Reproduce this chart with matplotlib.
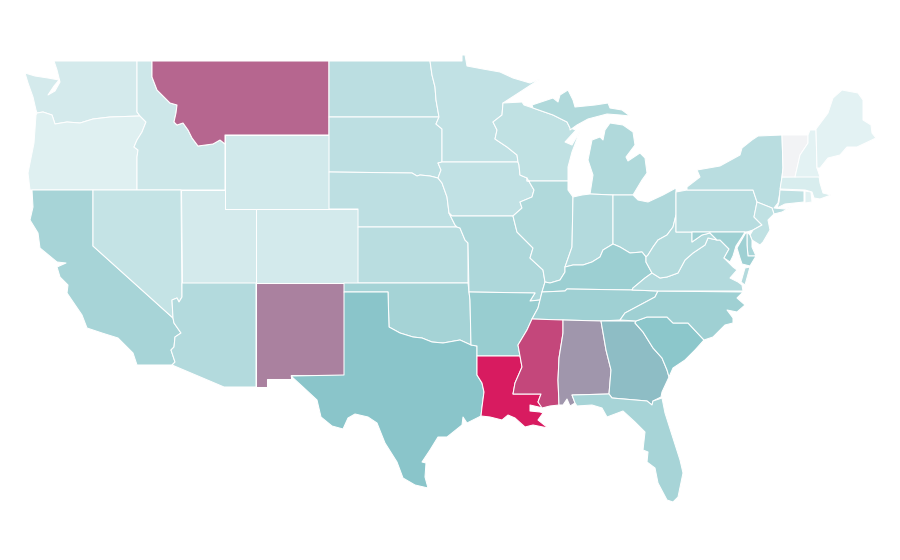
import matplotlib
matplotlib.use('Agg')
import matplotlib.pyplot as plt
from matplotlib.colors import LinearSegmentedColormap

states = ['WA','OR','ID','MT','WY','CA','NV','UT','CO','AZ','NM','ND','SD','NE','KS','OK','TX',
          'MN','IA','MO','AR','LA','WI','IL','MI','IN','OH','KY','TN','MS','AL','GA','FL','SC','NC',
          'VA','WV','PA','NY','NJ','DE','MD','CT','RI','MA','VT','NH','ME']
values = [17,12,20,78,18,37,24,17,17.5,32,70,28,27,27,29,38,50,
          25,25,34,44,100,26,33,33,32,33.5,42,41,87,64,52.5,37,49,41,
          32,31,30,29,26,36,41,26,11,15,0,10,10]

# state outlines, traced in picture pixels. MI, MD, VA have two pieces
shapes = {
 'WA': [[(54,61),(137,61),(137,112),(140,116),(110,117),(93,119),(80,123),(67,122),(55,124),(52,115),(43,112),(37,113),
         (36,110),(33,97),(28,83),(25,73),(35,76),(48,78),(59,80),(54,86),(48,95),(55,91),(60,82),(57,70)]],
 'OR': [[(37,113),(43,112),(52,115),(55,124),(67,122),(80,123),(93,119),(110,117),(140,116),(146,122),(142,132),(137,140),
         (134,147),(138,150),(137,157),(137,190),(30,190),(28,173),(34,143),(36,115)]],
 'ID': [[(137,61),(152,61),(152,77),(157,90),(170,103),(177,105),(176,113),(174,122),(177,125),(183,123),(188,130),(192,138),
         (198,146),(213,144),(220,140),(225,144),(225,190),(137,190),(137,157),(138,150),(134,147),(137,140),(142,132),
         (146,122),(140,116),(137,112)]],
 'MT': [[(152,61),(329,61),(329,135),(225,135),(225,144),(220,140),(213,144),(198,146),(192,138),(188,130),(183,123),(177,125),
         (174,122),(176,113),(177,105),(170,103),(157,90),(152,77)]],
 'WY': [[(225,135),(329,135),(329,209),(225,209)]],
 'CA': [[(32,190),(93,190),(93,246),(173,318),(174,323),(181,333),(175,337),(174,347),(171,350),(175,362),(172,365),(137,365),
         (133,353),(118,338),(102,333),(87,328),(82,315),(67,293),(68,285),(60,277),(57,267),(66,263),(57,262),(40,248),
         (38,233),(30,220),(33,207)]],
 'NV': [[(93,190),(181,190),(182,297),(179,302),(177,298),(172,300),(173,318),(93,246)]],
 'UT': [[(181,190),(225,190),(225,209),(256,209),(256,283),(182,283)]],
 'CO': [[(256,209),(358,209),(358,283),(256,283)]],
 'AZ': [[(182,283),(256,283),(256,387),(224,387),(172,365),(175,362),(171,350),(174,347),(175,337),(181,333),(174,323),
         (173,318),(172,300),(177,298),(179,302),(182,297)]],
 'NM': [[(256,283),(344,283),(344,375),(291,375),(291,379),(267,379),(267,387),(256,387)]],
 'ND': [[(329,61),(430,61),(432,75),(435,87),(436,100),(439,117),(329,117)]],
 'SD': [[(329,117),(439,117),(436,124),(442,129),(442,162),(438,163),(441,170),(438,178),(430,176),(420,175),(417,176),(412,173),(329,172)]],
 'NE': [[(329,172),(412,173),(417,176),(420,175),(430,176),(438,178),(442,183),(447,197),(449,213),(455,225),(457,227),(358,227),(358,209),(329,209)]],
 'KS': [[(358,227),(457,227),(460,228),(465,240),(468,243),(468,283),(358,283)]],
 'OK': [[(344,283),(468,283),(470,300),(471,345),(460,340),(443,343),(432,342),(422,338),(413,337),(400,333),(389,327),(388,292),(344,292)]],
 'TX': [[(344,292),(388,292),(389,327),(400,333),(413,337),(422,338),(432,342),(443,343),(460,340),(471,345),(477,346),(477,375),
         (482,383),(484,392),(482,407),(481,416),(467,423),(463,417),(462,425),(447,437),(438,437),(430,450),(422,462),(426,463),
         (425,477),(428,488),(415,485),(403,478),(397,462),(385,443),(377,423),(368,417),(355,414),(348,418),(343,429),(332,426),
         (321,417),(317,400),(303,387),(291,376),(344,375)]],
 'MN': [[(430,61),(462,61),(462,55),(465,55),(467,66),(483,69),(500,72),(513,78),(530,83),(540,79),(520,92),(503,103),(502,115),(493,122),
         (497,130),(495,139),(507,147),(517,155),(518,162),(442,162),(442,129),(436,124),(439,117),(436,100),(435,87),(432,75)]],
 'IA': [[(438,163),(442,162),(518,162),(519,165),(520,175),(527,178),(534,190),(532,197),(520,202),(522,208),(513,216),(452,216),
         (449,213),(447,197),(442,183),(438,178),(441,170)]],
 'MO': [[(452,216),(513,216),(517,232),(525,240),(533,248),(530,258),(543,270),(545,282),(542,292),(540,300),(530,301),(535,293),
         (469,292),(468,243),(465,240),(460,228),(457,227),(455,225),(449,213)]],
 'AR': [[(469,292),(535,293),(530,301),(540,300),(538,308),(532,319),(527,330),(518,345),(520,356),(477,356),(477,346),(471,345),(470,300)]],
 'LA': [[(477,356),(520,356),(522,367),(515,383),(513,394),(541,394),(538,402),(543,408),(530,405),(530,411),(540,412),(543,413),(538,420),
         (548,428),(533,425),(525,427),(515,418),(508,415),(502,420),(490,417),(481,416),(482,407),(484,392),(482,383),(477,375)]],
 'WI': [[(503,103),(522,102),(524,105),(533,108),(553,115),(567,122),(570,128),(576,130),(565,142),(572,145),(580,131),(572,152),(568,167),
         (568,181),(527,181),(527,178),(520,175),(519,165),(518,162),(517,155),(507,147),(495,139),(497,130),(493,122),(502,115)]],
 'IL': [[(527,181),(568,181),(568,190),(573,197),(572,247),(565,267),(565,272),(560,280),(550,283),(545,282),(543,270),(530,258),(533,248),
         (525,240),(517,232),(513,216),(522,208),(520,202),(532,197),(534,190),(527,178)]],
 'MI': [[(533,108),(532,105),(553,98),(558,102),(560,95),(568,90),(573,100),(575,107),(595,105),(608,103),(610,108),(622,110),
         (630,116),(620,115),(607,114),(588,119),(577,125),(570,130),(570,128),(567,122),(553,115)],
        [(590,194),(593,175),(588,160),(592,140),(600,137),(603,140),(605,130),(610,123),(623,125),(633,132),(635,145),(626,157),(628,161),
         (640,153),(645,158),(647,173),(642,180),(633,195),(613,195)]],
 'IN': [[(573,197),(582,195),(590,194),(613,195),(613,244),(603,250),(600,257),(592,262),(583,265),(573,265),(565,267),(572,247)]],
 'OH': [[(613,195),(633,195),(638,200),(648,202),(663,195),(676,188),(676,215),(673,227),(667,235),(658,240),(653,247),(648,255),(646,257),
         (642,252),(630,253),(620,247),(613,244)]],
 'KY': [[(545,282),(550,283),(560,280),(565,272),(565,267),(573,265),(583,265),(592,262),(600,257),(603,250),(613,244),(620,247),(630,253),(642,252),
         (646,257),(646,262),(652,273),(645,278),(633,288),(632,290),(567,289),(565,291),(542,292)]],
 'TN': [[(542,292),(565,291),(567,289),(632,290),(658,291),(655,297),(640,305),(625,313),(620,320),(601,321),(563,320),(532,319),(538,308),(540,300)]],
 'MS': [[(532,319),(563,320),(563,333),(559,358),(558,380),(559,405),(550,406),(542,408),(538,402),(541,394),(513,394),(515,383),(522,367),(520,356),(518,345),(527,330)]],
 'AL': [[(563,320),(601,321),(606,350),(611,370),(609,394),(572,395),(575,403),(570,406),(567,399),(563,405),(559,405),(558,380),(559,358),(563,333)]],
 'GA': [[(601,321),(636,321),(635,323),(643,332),(653,348),(662,358),(667,370),(669,377),(662,392),(661,397),(653,401),(652,405),(647,401),
         (612,398),(609,394),(611,370),(606,350)]],
 'FL': [[(572,395),(609,394),(612,398),(647,401),(652,405),(653,401),(662,398),(665,413),(672,435),(680,460),(683,473),(678,497),(673,502),(667,500),
         (658,483),(655,468),(647,462),(648,452),(643,450),(645,432),(635,422),(623,411),(607,417),(602,408),(592,405),(577,406),(575,403)]],
 'SC': [[(636,321),(647,317),(667,317),(673,323),(688,323),(704,340),(695,350),(685,360),(673,368),(669,377),(667,370),(662,358),(653,348),(643,332),(635,323)]],
 'NC': [[(620,320),(625,313),(640,305),(655,297),(658,291),(743,292),(737,298),(745,305),(737,312),(727,310),(733,318),(733,323),(725,325),(713,337),
         (704,340),(688,323),(673,323),(667,317),(647,317),(636,321)]],
 'VA': [[(632,290),(633,288),(645,278),(652,273),(660,278),(667,277),(678,273),(685,260),(693,253),(705,245),(708,238),(717,240),(720,240),(729,249),
         (724,258),(728,262),(733,267),(737,270),(730,278),(738,282),(742,285),(743,291),(658,291)],
        [(750,267),(745,285),(741,282),(745,268)]],
 'WV': [[(646,257),(648,255),(653,247),(658,240),(667,235),(673,227),(676,215),(676,232),(692,232),(692,242),(702,235),(710,233),(717,240),(708,238),
         (705,245),(693,253),(685,260),(678,273),(667,277),(660,278),(652,273),(646,262)]],
 'PA': [[(676,192),(687,190),(753,190),(757,202),(755,212),(754,217),(762,225),(753,230),(747,232),(676,232)]],
 'NY': [[(687,190),(687,187),(700,177),(697,170),(720,166),(740,155),(742,148),(752,140),(758,136),(782,135),(783,168),(782,177),(780,192),(778,203),
         (774,208),(785,209),(793,206),(782,212),(774,214),(772,208),(757,202),(753,190)]],
 'NJ': [[(757,202),(772,208),(774,214),(768,220),(770,230),(763,242),(760,245),(752,240),(750,235),(753,230),(762,225),(754,217),(755,212)]],
 'DE': [[(747,232),(750,235),(752,240),(752,247),(756,256),(748,256),(747,245)]],
 'MD': [[(692,232),(745,232),(742,237),(736,246),(733,256),(730,262),(724,258),(729,249),(720,240),(717,240),(710,233),(702,235),(692,242)],
        [(745,234),(747,232),(747,245),(748,256),(756,256),(750,266),(742,264),(740,258),(737,248)]],
 'CT': [[(780,190),(804,191),(804,202),(785,204),(777,208),(779,202)]],
 'RI': [[(805,191),(811,192),(812,202),(805,203)]],
 'MA': [[(782,177),(819,176),(820,183),(823,193),(831,195),(820,199),(814,198),(812,192),(805,190),(780,189)]],
 'VT': [[(782,135),(808,135),(808,143),(800,155),(795,177),(782,177),(783,168)]],
 'NH': [[(810,130),(816,130),(817,168),(820,177),(795,177),(800,155),(808,143),(808,135)]],
 'ME': [[(816,129),(828,113),(833,98),(842,90),(858,93),(863,100),(863,120),(871,125),(872,133),(876,138),(857,147),(847,147),(840,155),(828,158),(820,168),(817,168)]],
}

# pale grey at zero, teal up to the middle, then over to the crimson
cmap = LinearSegmentedColormap.from_list('shade', [(0,'#f2f3f5'),(0.1,'#e3f2f3'),(0.5,'#8ac6ca'),(1,'#d81b60')])

fig = plt.figure(figsize=(9,5.6), dpi=100)
ax = fig.add_axes([0,0,1,1])

for name, val in zip(states, values):
    for part in shapes[name]:
        xs = [p[0] for p in part]
        ys = [p[1] for p in part]
        ax.fill(xs, ys, facecolor=cmap(val/100), edgecolor='white', linewidth=0.75, joinstyle='round')

ax.set_xlim(0,900)
ax.set_ylim(560,0)
ax.axis('off')
fig.savefig('out.png', dpi=100, facecolor='white')
